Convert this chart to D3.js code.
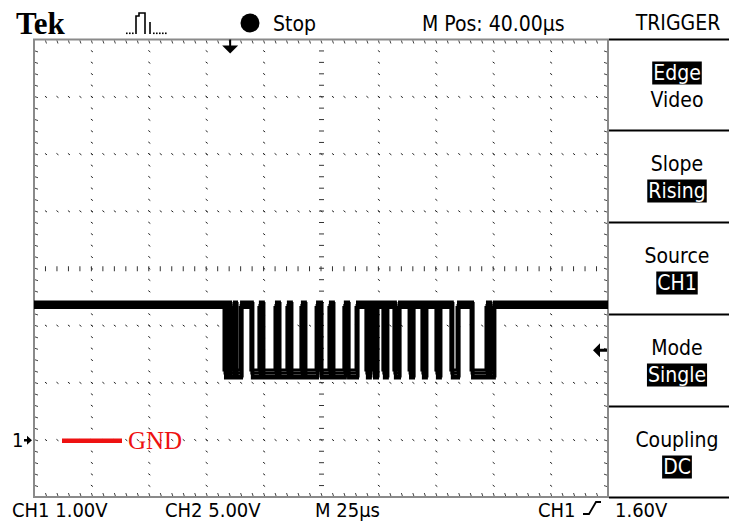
<!DOCTYPE html>
<html><head><meta charset="utf-8">
<script src="https://cdn.jsdelivr.net/npm/d3@7"></script>
<style>
html,body{margin:0;padding:0;background:#fff;}
svg{display:block;}
.scope{font-family:"Liberation Sans Narrow","DejaVu Sans Condensed","Roboto Condensed",Arial,sans-serif;}
</style></head>
<body>
<svg id="c" width="729" height="523"></svg>
<script>
const timeDomain = [-85, 165];          // µs across the 10 horizontal divisions (25 µs/div, M Pos 40 µs)
const voltDomain = [-1, 7];             // CH1 volts across 8 vertical divisions (1 V/div, GND marker at 0 V)
const highLevel = 2.35;                 // V
const lowLevel = 1.17;                  // V
const triggerLevel = 1.6;               // V
const triggerTime = 0;                  // µs
// edge times (µs) and the level after each edge ("H" / "L")
const edgeTimes  = [-1.8,-0.5,0.4,2.1,3.0,5.2,9.9,13.4,14.7,20.4,21.7,25.6,26.9,31.7,33.0,38.3,40.0,43.9,45.2,50.4,51.8,55.7,
                    60.0,61.3,63.1,64.4,67.4,68.7,72.2,74.0,78.8,80.1,84.4,85.7,90.5,91.8,97.0,99.7,105.8,112.3,113.6,115.3];
const edgeLevels = ["L","H","L","H","L","H","L","H","L","H","L","H","L","H","L","H","L","H","L","H","L","H",
                    "L","H","L","H","L","H","L","H","L","H","L","H","L","H","L","H","L","H","L","H"];
// overlapping acquisitions (persistence): level offset V, time shift µs
const captureOffsetsV = [0, 0.035, -0.035, 0.06];
const captureShiftsUs = [0, 0.45, -0.45, 0.2];
const menuTitles = ["TRIGGER"];
const menuItems = [
  {top:"Edge", bottom:"Video", inv:"top"},
  {top:"Slope", bottom:"Rising", inv:"bottom"},
  {top:"Source", bottom:"CH1", inv:"bottom"},
  {top:"Mode", bottom:"Single", inv:"bottom"},
  {top:"Coupling", bottom:"DC", inv:"bottom"}
];
const bottomLabels = ["CH1 1.00V", "CH2 5.00V", "M 25µs", "CH1", "1.60V"];
const topLabels = ["Tek", "Stop", "M Pos: 40.00µs"];

// ---- drawing ----
const svg = d3.select("#c");
const W = 729, H = 523;
const X0 = 34, X1 = 608, Y0 = 39.5, Y1 = 497;
const x = d3.scaleLinear().domain(timeDomain).range([X0, X1]);
const y = d3.scaleLinear().domain(voltDomain).range([Y1, Y0]);
svg.append("rect").attr("width", W).attr("height", H).attr("fill", "#fff");

const g = svg.append("g");
const majorT = d3.range(timeDomain[0], timeDomain[1] + 0.01, 25);
const minorT = d3.range(timeDomain[0], timeDomain[1] + 0.01, 5);
const majorV = d3.range(voltDomain[0], voltDomain[1] + 0.01, 1);
const minorV = d3.range(voltDomain[0], voltDomain[1] + 0.001, 0.2);
const centerT = 40, centerV = 3;

// interior dotted vertical grid lines
majorT.slice(1, -1).forEach(t => {
  const cx = x(t);
  minorV.slice(1, -1).forEach(v => {
    const cy = y(v);
    if (Math.abs(t - centerT) < 1e-6) {
      g.append("line").attr("x1", cx - 2).attr("x2", cx + 3).attr("y1", cy).attr("y2", cy)
        .attr("stroke", "#333").attr("stroke-width", 1);
    } else {
      g.append("line").attr("x1", cx - 0.5).attr("x2", cx + 1.5).attr("y1", cy - 0.5).attr("y2", cy + 1)
        .attr("stroke", "#222").attr("stroke-width", 1);
    }
  });
});
// interior dotted horizontal grid lines
majorV.slice(1, -1).forEach(v => {
  const cy = y(v);
  minorT.slice(1, -1).forEach(t => {
    const cx = x(t);
    if (Math.abs(v - centerV) < 1e-6) {
      g.append("line").attr("x1", cx).attr("x2", cx).attr("y1", cy - 2).attr("y2", cy + 3)
        .attr("stroke", "#333").attr("stroke-width", 1);
    } else {
      g.append("line").attr("x1", cx - 0.5).attr("x2", cx + 1.5).attr("y1", cy - 0.5).attr("y2", cy + 1)
        .attr("stroke", "#222").attr("stroke-width", 1);
    }
  });
});
// border (dithered gray) with inward ticks
g.append("rect").attr("x", X0).attr("y", Y0).attr("width", X1 - X0).attr("height", Y1 - Y0)
  .attr("fill", "none").attr("stroke", "#8a8a8a").attr("stroke-width", 2);
minorT.slice(1, -1).forEach(t => {
  const cx = x(t);
  g.append("line").attr("x1", cx).attr("x2", cx + 1).attr("y1", Y0 + 1).attr("y2", Y0 + 4).attr("stroke", "#444").attr("stroke-width", 1);
  g.append("line").attr("x1", cx).attr("x2", cx + 1).attr("y1", Y1 - 4).attr("y2", Y1 - 1).attr("stroke", "#444").attr("stroke-width", 1);
});
minorV.slice(1, -1).forEach(v => {
  const cy = y(v);
  g.append("line").attr("x1", X0 + 1).attr("x2", X0 + 4).attr("y1", cy).attr("y2", cy + 1).attr("stroke", "#444").attr("stroke-width", 1);
  g.append("line").attr("x1", X1 - 4).attr("x2", X1 - 1).attr("y1", cy).attr("y2", cy + 1).attr("stroke", "#444").attr("stroke-width", 1);
});

// waveform (several overlapping acquisitions)
const lvl = s => s === "H" ? highLevel : lowLevel;
svg.append("clipPath").attr("id", "plotclip").append("rect")
  .attr("x", X0).attr("y", Y0).attr("width", X1 - X0).attr("height", Y1 - Y0);
const line = d3.line().x(d => x(d[0])).y(d => y(d[1])).curve(d3.curveStepAfter);
captureOffsetsV.forEach((off, i) => {
  const sh = captureShiftsUs[i];
  const pts = [[timeDomain[0], highLevel + off]];
  edgeTimes.forEach((t, k) => pts.push([t + sh, lvl(edgeLevels[k]) + (edgeLevels[k] === "L" ? -off * 1.5 : off)]));
  pts.push([timeDomain[1], highLevel + off]);
  svg.append("path").attr("d", line(pts)).attr("fill", "none").attr("stroke", "#000")
    .attr("stroke-width", 3).attr("clip-path", "url(#plotclip)");
});

// trigger position marker (top)
const tx = x(triggerTime) + 1;
svg.append("path").attr("d", `M${tx - 1},${Y0} L${tx - 1},${Y0 + 6} L${tx - 8},${Y0 + 6} L${tx},${Y0 + 14} L${tx + 8},${Y0 + 6} L${tx + 1},${Y0 + 6} L${tx + 1},${Y0} Z`).attr("fill", "#000");
// trigger level marker (right)
const ty = y(triggerLevel) + 2;
svg.append("path").attr("d", `M${X1 - 15},${ty} L${X1 - 8},${ty - 7} L${X1 - 8},${ty - 1.5} L${X1 - 1},${ty - 1.5} L${X1 - 1},${ty + 1.5} L${X1 - 8},${ty + 1.5} L${X1 - 8},${ty + 7} Z`).attr("fill", "#000");

// channel 1 ground marker
const gy = y(0);
svg.append("text").attr("class", "scope").attr("x", 12).attr("y", gy + 7).attr("font-size", 20).attr("fill", "#000").text("1");
svg.append("path").attr("d", `M24,${gy - 0.8} L27,${gy - 0.8} L27,${gy - 4} L32,${gy + 0.5} L27,${gy + 5} L27,${gy + 1.8} L24,${gy + 1.8} Z`).attr("fill", "#000");
svg.append("line").attr("x1", 62).attr("x2", 122).attr("y1", gy + 1).attr("y2", gy + 1).attr("stroke", "#ee1111").attr("stroke-width", 4.5);
svg.append("text").attr("x", 128).attr("y", gy + 9).attr("font-family", "'Liberation Serif','DejaVu Serif',serif")
  .attr("font-size", 25).attr("fill", "#ee1111").text("GND");

// top bar
svg.append("text").attr("x", 16).attr("y", 34).attr("font-family", "'Liberation Serif','DejaVu Serif',serif")
  .attr("font-weight", "bold").attr("font-size", 31).attr("fill", "#000").text(topLabels[0]);
// acquisition icon
svg.append("path").attr("d", "M136,34 L136,16 L139,16 L139,13 L145,13 L145,34 M150,34 L150,22")
  .attr("fill", "none").attr("stroke", "#000").attr("stroke-width", 1.6);
[126,129,132,153,156,159,162,165].forEach(px => svg.append("rect").attr("x", px).attr("y", 32.5).attr("width", 1.6).attr("height", 1.6).attr("fill", "#000"));
svg.append("circle").attr("cx", 250).attr("cy", 23).attr("r", 9.5).attr("fill", "#000");
svg.append("text").attr("class", "scope").attr("x", 273).attr("y", 31).attr("font-size", 21).attr("fill", "#000").text(topLabels[1]);
svg.append("text").attr("class", "scope").attr("x", 422).attr("y", 31).attr("font-size", 21).attr("fill", "#000").text(topLabels[2]);
svg.append("text").attr("class", "scope").attr("x", 678).attr("y", 30).attr("text-anchor", "middle").attr("font-size", 21).attr("fill", "#000").text(menuTitles[0]);

// menu panel
const sepY = [39.5, 130.5, 222.5, 314.5, 406.5, 497.5];
sepY.forEach(sy => svg.append("line").attr("x1", X1 + 1).attr("x2", W).attr("y1", sy).attr("y2", sy).attr("stroke", "#000").attr("stroke-width", 2));
menuItems.forEach((m, i) => {
  const top = sepY[i];
  const cx = 677;
  [[m.top, top + 40, m.inv === "top"], [m.bottom, top + 67, m.inv === "bottom"]].forEach(([txt, by, inv]) => {
    const gg = svg.append("g");
    const t = gg.append("text").attr("class", "scope").attr("x", cx).attr("y", by).attr("text-anchor", "middle")
      .attr("font-size", 21).attr("fill", inv ? "#fff" : "#000").text(txt);
    if (inv) {
      const bb = t.node().getBBox();
      gg.insert("rect", "text").attr("x", bb.x - 1).attr("y", by - 18).attr("width", bb.width + 2).attr("height", 23).attr("fill", "#000");
    }
  });
});

// bottom status line
const by = 517;
const bfs = 20;
svg.append("text").attr("class", "scope").attr("x", 12).attr("y", by).attr("font-size", bfs).text(bottomLabels[0]);
svg.append("text").attr("class", "scope").attr("x", 165).attr("y", by).attr("font-size", bfs).text(bottomLabels[1]);
svg.append("text").attr("class", "scope").attr("x", 315).attr("y", by).attr("font-size", bfs).text(bottomLabels[2]);
svg.append("text").attr("class", "scope").attr("x", 538).attr("y", by).attr("font-size", bfs).text(bottomLabels[3]);
svg.append("path").attr("d", "M583,514 L589,514 L596,502 L601,502").attr("fill", "none").attr("stroke", "#000").attr("stroke-width", 1.8);
svg.append("text").attr("class", "scope").attr("x", 615).attr("y", by).attr("font-size", bfs).text(bottomLabels[4]);
</script>
</body></html>
